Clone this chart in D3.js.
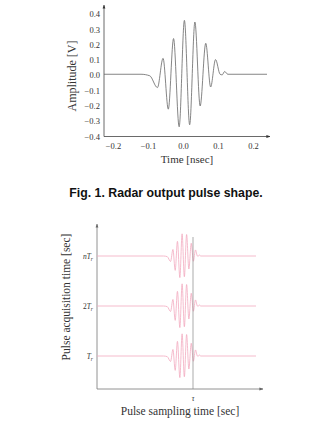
<!DOCTYPE html>
<html>
<head>
<meta charset="utf-8">
<script src="https://cdn.jsdelivr.net/npm/d3@7"></script>
<style>
body { margin: 0; background: #fff; }
svg { display: block; }
.serif { font-family: "Liberation Serif", "DejaVu Serif", serif; fill: #333; }
</style>
</head>
<body>
<svg id="chart" width="334" height="431"></svg>
<script>
// pulse extrema (time in nsec, amplitude in V)
const pulseTime = [-0.12, -0.095, -0.073, -0.057, -0.042, -0.027, -0.011, 0.004, 0.019, 0.034, 0.049, 0.065, 0.079, 0.093, 0.106, 0.112, 0.119, 0.128];
const pulseAmp  = [0, -0.01, -0.087, 0.104, -0.228, 0.233, -0.343, 0.352, -0.33, 0.341, -0.207, 0.202, -0.083, 0.096, 0.0, -0.004, 0.018, 0];

const ampTicks = [-0.4, -0.3, -0.2, -0.1, 0.0, 0.1, 0.2, 0.3, 0.4];
const timeTicks = [-0.2, -0.1, 0.0, 0.1, 0.2];

// second panel: rows of acquired pulses
const rowIndex = [1, 2, 3];
const rowLabel = [["", "T", "r"], ["2", "T", "r"], ["n", "T", "r"]];

const svg = d3.select("#chart");

const defs = svg.append("defs");
const arrow = (id, color) => defs.append("marker")
    .attr("id", id)
    .attr("viewBox", "0 0 10 10")
    .attr("refX", 9).attr("refY", 5)
    .attr("markerWidth", 5).attr("markerHeight", 5)
    .attr("orient", "auto")
    .append("path")
    .attr("d", "M0,1.5 L10,5 L0,8.5 Z")
    .attr("fill", color);
arrow("arrTop", "#333");
arrow("arrBot", "#666");

const pts = (lo, hi) => {
    const p = pulseTime.map((t, i) => ({ t, v: pulseAmp[i] }));
    return [{ t: lo, v: 0 }, ...p, { t: hi, v: 0 }];
};

// ---------- Fig. 1 top panel ----------
const x1 = d3.scaleLinear().domain([-0.2, 0.2]).range([113, 253]);
const y1 = d3.scaleLinear().domain([-0.4, 0.4]).range([136.5, 14]);
const xLeft = 104, xRight = 270;

const g1 = svg.append("g");
g1.append("line")
    .attr("x1", xLeft).attr("x2", xLeft)
    .attr("y1", y1(-0.4)).attr("y2", 5)
    .attr("stroke", "#444").attr("stroke-width", 0.8)
    .attr("marker-end", "url(#arrTop)");
g1.append("line")
    .attr("x1", xLeft).attr("x2", xRight)
    .attr("y1", y1(-0.4)).attr("y2", y1(-0.4))
    .attr("stroke", "#444").attr("stroke-width", 0.8)
    .attr("marker-end", "url(#arrTop)");

const yAxis1 = d3.axisLeft(y1).tickValues(ampTicks).tickSize(0).tickPadding(4)
    .tickFormat(d3.format(".1f"));
g1.append("g").attr("transform", `translate(${xLeft},0)`).call(yAxis1)
    .call(g => g.select(".domain").remove())
    .call(g => g.selectAll("text").attr("class", "serif").attr("font-size", 8.5));

const xAxis1 = d3.axisBottom(x1).tickValues(timeTicks).tickSize(0).tickPadding(6)
    .tickFormat(d3.format(".1f"));
g1.append("g").attr("transform", `translate(0,${y1(-0.4)})`).call(xAxis1)
    .call(g => g.select(".domain").remove())
    .call(g => g.selectAll("text").attr("class", "serif").attr("font-size", 8.5));

const line1 = d3.line()
    .x(d => x1(d.t))
    .y(d => y1(d.v) - 1)
    .curve(d3.curveMonotoneX);
g1.append("path")
    .attr("d", line1(pts(x1.invert(xLeft), x1.invert(xRight - 3))))
    .attr("fill", "none")
    .attr("stroke", "#666")
    .attr("stroke-width", 0.8);

g1.append("text").attr("class", "serif")
    .attr("x", 187).attr("y", 163)
    .attr("text-anchor", "middle").attr("font-size", 11)
    .text("Time [nsec]");
g1.append("text").attr("class", "serif")
    .attr("transform", "translate(76,76) rotate(-90)")
    .attr("text-anchor", "middle").attr("font-size", 12)
    .text("Amplitude [V]");

svg.append("text")
    .attr("x", 166).attr("y", 197)
    .attr("text-anchor", "middle")
    .attr("font-family", "'Liberation Sans', Arial, sans-serif")
    .attr("font-weight", "bold")
    .attr("font-size", 12.3)
    .attr("fill", "#111")
    .text("Fig. 1. Radar output pulse shape.");

// ---------- bottom panel ----------
const x2 = d3.scaleLinear().domain([-0.2, 0.2]).range([181.5 - 30, 181.5 + 30]);
const rowY = d3.scaleLinear().domain([1, 3]).range([356, 256]);
const amp2 = 63; // px per volt
const bLeft = 97, bRight = 256, bBase = 389;

const g2 = svg.append("g");
g2.append("line")
    .attr("x1", bLeft).attr("x2", bLeft)
    .attr("y1", bBase).attr("y2", 224)
    .attr("stroke", "#777").attr("stroke-width", 0.8)
    .attr("marker-end", "url(#arrBot)");
g2.append("line")
    .attr("x1", bLeft).attr("x2", 263)
    .attr("y1", bBase).attr("y2", bBase)
    .attr("stroke", "#777").attr("stroke-width", 0.8)
    .attr("marker-end", "url(#arrBot)");

const rows = g2.selectAll("g.row").data(rowIndex).join("g").attr("class", "row");
rows.append("path")
    .attr("d", r => d3.line()
        .x(d => x2(d.t))
        .y(d => rowY(r) - d.v * amp2)
        .curve(d3.curveMonotoneX)(pts(x2.invert(bLeft), x2.invert(bRight))))
    .attr("fill", "none")
    .attr("stroke", "#f3a9bf")
    .attr("stroke-width", 0.8);

g2.append("line")
    .attr("x1", 193).attr("x2", 193)
    .attr("y1", bBase).attr("y2", 237)
    .attr("stroke", "#888").attr("stroke-width", 0.7);

const lab = rows.append("text").attr("class", "serif")
    .attr("x", bLeft - 4)
    .attr("y", r => rowY(r) + 3)
    .attr("text-anchor", "end")
    .attr("font-size", 7.5)
    .attr("font-style", "italic");
lab.append("tspan").text((r, i) => rowLabel[i][0]).attr("font-style", (r, i) => i === 2 ? "italic" : "normal");
lab.append("tspan").text((r, i) => rowLabel[i][1]);
lab.append("tspan").attr("font-size", 5.5).attr("dy", 2).text((r, i) => rowLabel[i][2]);

g2.append("text").attr("class", "serif")
    .attr("x", 193).attr("y", 401)
    .attr("text-anchor", "middle").attr("font-size", 7.5).attr("font-style", "italic")
    .text("τ");

g2.append("text").attr("class", "serif")
    .attr("x", 180).attr("y", 415)
    .attr("text-anchor", "middle").attr("font-size", 11.5)
    .text("Pulse sampling time [sec]");
g2.append("text").attr("class", "serif")
    .attr("transform", "translate(70,297) rotate(-90)")
    .attr("text-anchor", "middle").attr("font-size", 11.5)
    .text("Pulse acquisition time [sec]");
</script>
</body>
</html>
